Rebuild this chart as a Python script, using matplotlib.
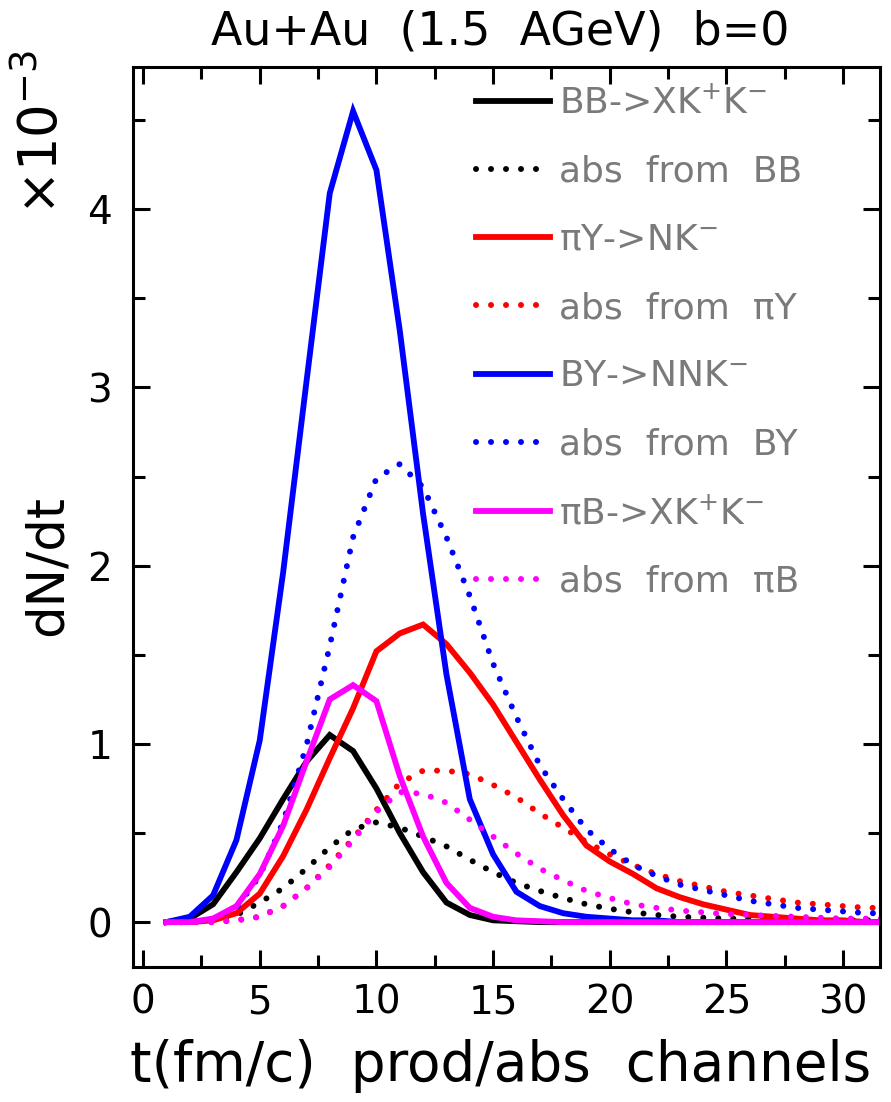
import matplotlib
matplotlib.use("Agg")
import matplotlib.pyplot as plt
from matplotlib.ticker import MultipleLocator

# time grid (fm/c) and dN/dt values in units of 1e-3
t = list(range(1, 33))

bb_prod = [0.0, 0.02, 0.10, 0.28, 0.47, 0.69, 0.90, 1.05, 0.96, 0.75, 0.50, 0.28, 0.11, 0.04, 0.01, 0.005,
           0.0, 0.0, 0.0, 0.0, 0.0, 0.0, 0.0, 0.0, 0.0, 0.0, 0.0, 0.0, 0.0, 0.0, 0.0, 0.0]
bb_abs = [0.0, 0.0, 0.01, 0.04, 0.11, 0.19, 0.30, 0.42, 0.52, 0.56, 0.53, 0.48, 0.425, 0.35, 0.28, 0.22,
          0.175, 0.135, 0.10, 0.075, 0.055, 0.04, 0.03, 0.025, 0.02, 0.02, 0.015, 0.015, 0.01, 0.01, 0.01, 0.01]
piy_prod = [0.0, 0.0, 0.01, 0.05, 0.16, 0.37, 0.63, 0.92, 1.20, 1.52, 1.62, 1.67, 1.56, 1.40, 1.22, 1.01,
            0.80, 0.60, 0.43, 0.34, 0.27, 0.19, 0.14, 0.10, 0.07, 0.04, 0.03, 0.02, 0.01, 0.01, 0.0, 0.0]
piy_abs = [0.0, 0.0, 0.0, 0.01, 0.03, 0.09, 0.19, 0.32, 0.47, 0.63, 0.78, 0.85, 0.85, 0.83, 0.77, 0.70,
           0.61, 0.53, 0.45, 0.38, 0.32, 0.27, 0.23, 0.20, 0.17, 0.15, 0.13, 0.11, 0.10, 0.09, 0.08, 0.08]
by_prod = [0.0, 0.03, 0.15, 0.46, 1.02, 1.96, 3.03, 4.09, 4.55, 4.22, 3.32, 2.29, 1.39, 0.69, 0.38, 0.17,
           0.09, 0.05, 0.03, 0.02, 0.01, 0.01, 0.0, 0.0, 0.0, 0.0, 0.0, 0.0, 0.0, 0.0, 0.0, 0.0]
by_abs = [0.0, 0.0, 0.02, 0.08, 0.26, 0.56, 0.99, 1.55, 2.16, 2.49, 2.57, 2.44, 2.16, 1.83, 1.45, 1.15,
          0.88, 0.69, 0.52, 0.41, 0.32, 0.26, 0.21, 0.18, 0.15, 0.12, 0.10, 0.08, 0.07, 0.06, 0.05, 0.05]
pib_prod = [0.0, 0.0, 0.02, 0.09, 0.27, 0.54, 0.90, 1.25, 1.33, 1.24, 0.82, 0.48, 0.22, 0.08, 0.03, 0.01,
            0.005, 0.0, 0.0, 0.0, 0.0, 0.0, 0.0, 0.0, 0.0, 0.0, 0.0, 0.0, 0.0, 0.0, 0.0, 0.0]
pib_abs = [0.0, 0.0, 0.0, 0.01, 0.03, 0.09, 0.19, 0.31, 0.46, 0.62, 0.73, 0.72, 0.67, 0.575, 0.48, 0.385,
           0.30, 0.235, 0.175, 0.135, 0.10, 0.08, 0.065, 0.055, 0.045, 0.04, 0.035, 0.03, 0.025, 0.02, 0.02, 0.02]

labels = [r"BB->XK$^{+}$K$^{-}$", "abs  from  BB",
          r"πY->NK$^{-}$", "abs  from  πY",
          r"BY->NNK$^{-}$", "abs  from  BY",
          r"πB->XK$^{+}$K$^{-}$", "abs  from  πB"]
series = [bb_prod, bb_abs, piy_prod, piy_abs, by_prod, by_abs, pib_prod, pib_abs]
colors = ["black", "black", "#ff0000", "#ff0000", "#0000ff", "#0000ff", "#ff00ff", "#ff00ff"]

plt.rcParams["font.family"] = ["DejaVu Sans"]
plt.rcParams["mathtext.fontset"] = "dejavusans"

fig = plt.figure(figsize=(8.91, 11.02), dpi=100)
ax = fig.add_axes([0.1493, 0.1228, 0.8384, 0.8167])

for i, (y, c, lab) in enumerate(zip(series, colors, labels)):
    if i % 2 == 0:
        ax.plot(t, y, color=c, lw=4.2, label=lab, solid_joinstyle="miter")
    else:
        ax.plot(t, y, color=c, lw=4.3, linestyle=(0, (0.01, 2.5)),
                dash_capstyle="round", label=lab)

ax.set_xlim(-0.43, 31.58)
ax.set_ylim(-0.25, 4.80)
ax.xaxis.set_major_locator(MultipleLocator(5))
ax.xaxis.set_minor_locator(MultipleLocator(2.5))
ax.yaxis.set_major_locator(MultipleLocator(1))
ax.yaxis.set_minor_locator(MultipleLocator(0.5))
ax.tick_params(which="both", direction="in", top=True, right=True, width=2.2)
ax.tick_params(which="major", length=12, labelsize=28)
ax.tick_params(which="minor", length=8.5)
ax.tick_params(axis="x", which="major", pad=12)
ax.tick_params(axis="y", which="major", pad=15)
for sp in ax.spines.values():
    sp.set_linewidth(2.2)

leg = ax.legend(loc="upper left", bbox_to_anchor=(0.44, 0.995), frameon=False,
                fontsize=26, handlelength=2.05, handletextpad=0.25,
                labelspacing=0.95, borderaxespad=0.0)
for txt in leg.get_texts():
    txt.set_color("#7a7a7a")

fig.text(0.561, 0.971, "Au+Au  (1.5  AGeV)  b=0", ha="center", va="center", fontsize=33)
fig.text(0.146, 0.033, "t(fm/c)  prod/abs  channels", ha="left", va="center", fontsize=39.5)
fig.text(0.054, 0.487, "dN/dt", rotation=90, ha="center", va="center", fontsize=37)
fig.text(0.047, 0.880, r"$\times$10$^{-3}$", rotation=90, ha="center", va="center", fontsize=38)

fig.savefig("out.png", dpi=100)
